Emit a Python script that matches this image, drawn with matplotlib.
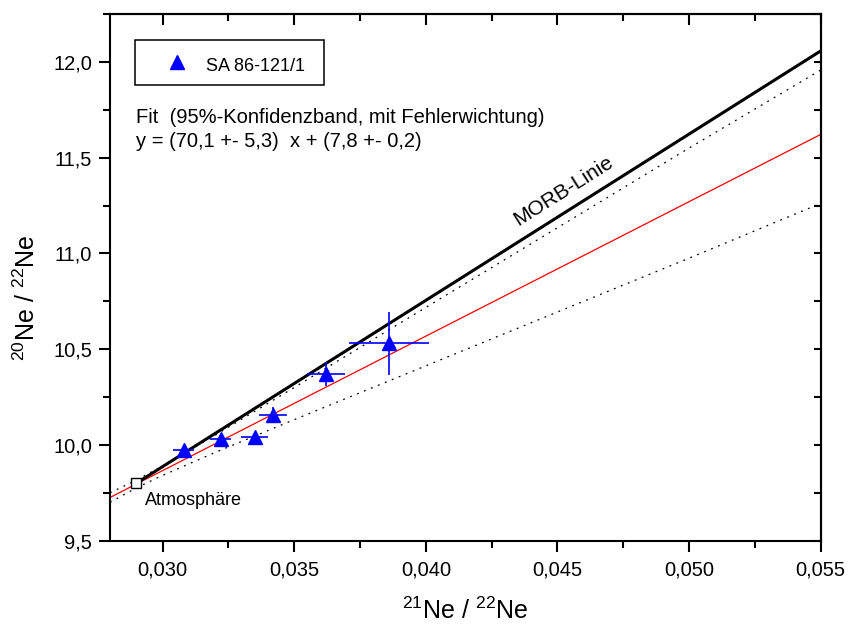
import numpy as np
import matplotlib
matplotlib.use("Agg")
import matplotlib.pyplot as plt
from matplotlib.ticker import MultipleLocator, FuncFormatter
from matplotlib.patches import Rectangle

plt.rcParams['font.family'] = ['Liberation Sans', 'DejaVu Sans']
plt.rcParams['mathtext.fontset'] = 'custom'
plt.rcParams['mathtext.rm'] = 'Liberation Sans'
plt.rcParams['mathtext.default'] = 'regular'

# Messpunkte SA 86-121/1 (21Ne/22Ne, 20Ne/22Ne) mit Fehlern
ne21 = np.array([0.0308, 0.0322, 0.0335, 0.0342, 0.0362, 0.0386])
ne20 = np.array([9.973, 10.029, 10.040, 10.156, 10.370, 10.530])
ne21_err = np.array([0.0004, 0.0004, 0.00052, 0.00052, 0.00073, 0.00153])
ne20_err = np.array([0.015, 0.015, 0.03, 0.04, 0.063, 0.165])

# Atmosphaere
atm_x, atm_y = 0.0290, 9.80

# MORB-Linie
morb_x = [0.0290, 0.055]
morb_y = [9.80, 12.057]

# Fit-Gerade
fit_slope = 70.2
fit_intercept = 7.76

# 95%-Konfidenzband
band_x = [0.028, 0.029, 0.030, 0.032, 0.035, 0.040, 0.045, 0.050, 0.055]
band_hi = [9.750, 9.816, 9.891, 10.051, 10.300, 10.718, 11.134, 11.550, 11.957]
band_lo = [9.700, 9.776, 9.841, 9.961, 10.132, 10.413, 10.694, 10.975, 11.261]

fig = plt.figure(figsize=(8.5, 6.24), dpi=100)
ax = fig.add_axes([0.1294, 0.1335, 0.8361, 0.8441])

xfit = np.array([0.028, 0.055])
ax.plot(xfit, fit_slope * xfit + fit_intercept, color='red', lw=0.9, zorder=2)
ax.plot(band_x, band_hi, color='black', lw=0.9, ls=(0, (1.5, 4.5)), zorder=2)
ax.plot(band_x, band_lo, color='black', lw=0.9, ls=(0, (1.5, 4.5)), zorder=2)
ax.plot(morb_x, morb_y, color='black', lw=2.2, zorder=3)

ax.errorbar(ne21, ne20, xerr=ne21_err, yerr=ne20_err, fmt='^', color='blue',
            ms=9.5, elinewidth=1.2, capsize=0, zorder=4)
ax.plot(atm_x, atm_y, 's', ms=7, mfc='white', mec='black', mew=1.0, zorder=5)

ax.text(0.02932, 9.686, 'Atmosphäre', fontsize=13)
ax.text(0.045224, 11.325, 'MORB-Linie', fontsize=15, rotation=32.3,
        rotation_mode='anchor', ha='center', va='center')

# Legende
ax.add_patch(Rectangle((0.035, 0.865), 0.266, 0.086, transform=ax.transAxes,
                       fill=False, lw=1.1, ec='black', zorder=6))
ax.plot([0.0943], [0.909], '^', color='blue', ms=9.5, transform=ax.transAxes)
ax.text(0.135, 0.892, 'SA 86-121/1', transform=ax.transAxes, fontsize=13,
        va='baseline')

ax.text(0.036, 0.7936, 'Fit  (95%-Konfidenzband, mit Fehlerwichtung)',
        transform=ax.transAxes, fontsize=14.5, va='baseline')
ax.text(0.036, 0.748, 'y = (70,1 +- 5,3)  x + (7,8 +- 0,2)',
        transform=ax.transAxes, fontsize=14.5, va='baseline')

ax.set_xlim(0.028, 0.055)
ax.set_ylim(9.5, 12.25)
ax.xaxis.set_major_locator(MultipleLocator(0.005))
ax.xaxis.set_minor_locator(MultipleLocator(0.0025))
ax.yaxis.set_major_locator(MultipleLocator(0.5))
ax.yaxis.set_minor_locator(MultipleLocator(0.25))
ax.xaxis.set_major_formatter(FuncFormatter(lambda v, p: f'{v:.3f}'.replace('.', ',')))
ax.yaxis.set_major_formatter(FuncFormatter(lambda v, p: f'{v:.1f}'.replace('.', ',')))

for s in ax.spines.values():
    s.set_linewidth(1.5)
ax.tick_params(which='major', direction='out', length=8, width=1.5, labelsize=14.5, pad=5)
ax.tick_params(axis='x', which='major', pad=6)
ax.tick_params(which='minor', direction='out', length=5, width=1.5)

top = ax.secondary_xaxis('top')
top.xaxis.set_major_locator(MultipleLocator(0.005))
top.xaxis.set_minor_locator(MultipleLocator(0.0025))
top.tick_params(which='major', direction='in', length=8, width=1.5, labeltop=False)
top.tick_params(which='minor', direction='in', length=5, width=1.5)
top.spines['top'].set_linewidth(1.5)

right = ax.secondary_yaxis('right')
right.yaxis.set_major_locator(MultipleLocator(0.5))
right.yaxis.set_minor_locator(MultipleLocator(0.25))
right.tick_params(which='major', direction='in', length=5, width=1.5, labelright=False)
right.tick_params(which='minor', direction='in', length=5, width=1.5)
right.spines['right'].set_linewidth(1.5)

ax.set_xlabel(r'$^{21}$Ne / $^{22}$Ne', fontsize=18)
ax.set_ylabel(r'$^{20}$Ne / $^{22}$Ne', fontsize=18)
ax.xaxis.set_label_coords(0.5, -0.108)
ax.yaxis.set_label_coords(-0.098, 0.461)

fig.savefig('out.png', dpi=100)
